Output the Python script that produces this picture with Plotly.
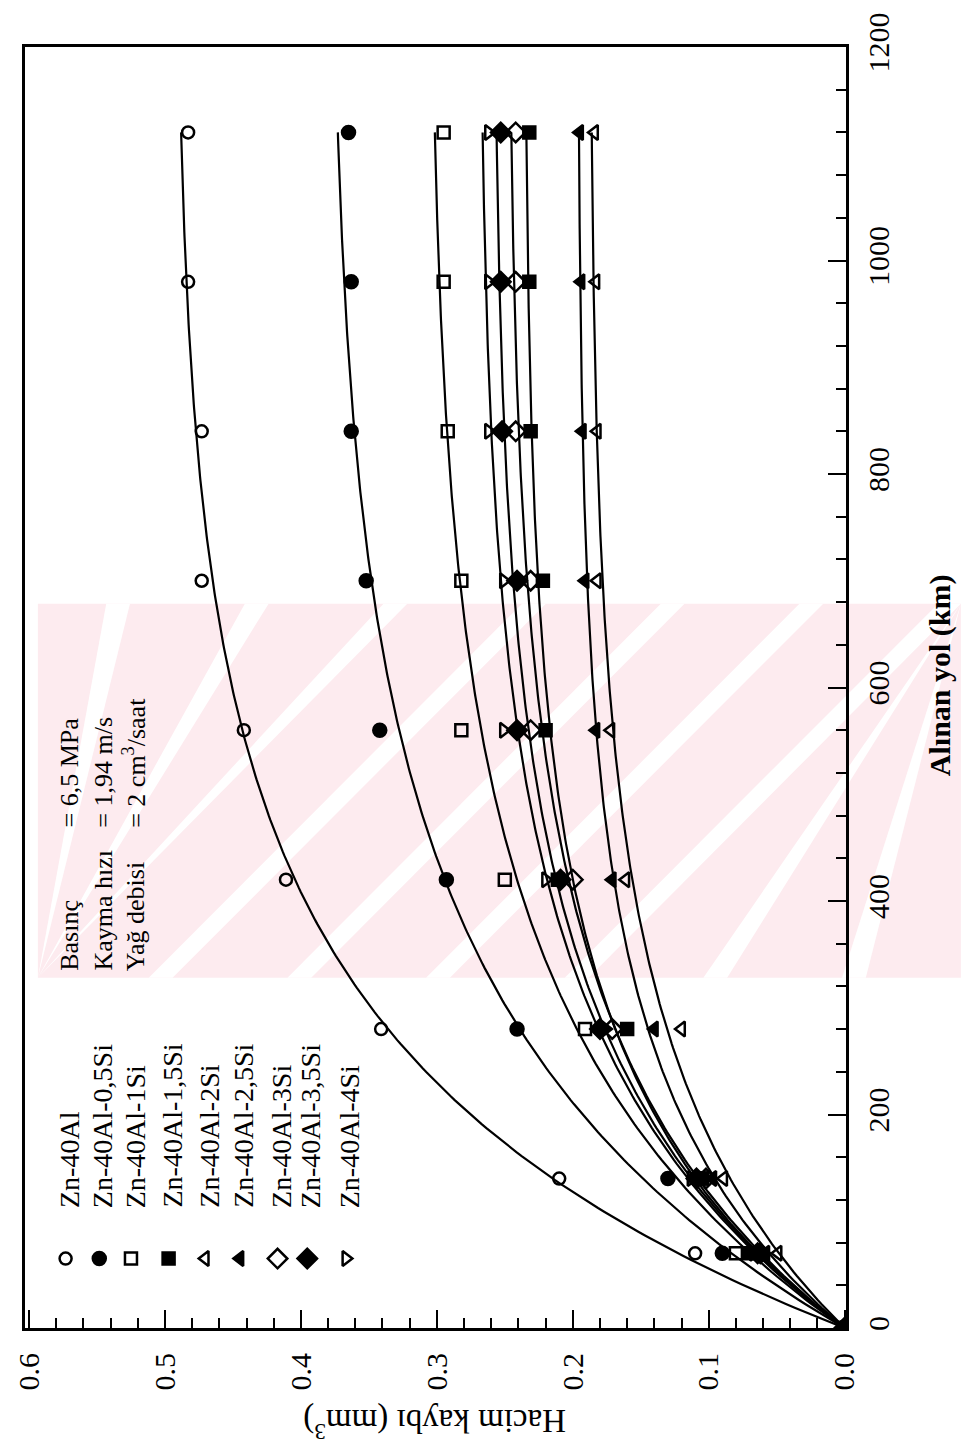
import numpy as np
import plotly.graph_objects as go

# Sliding distance (km) at which the volume loss was measured
distance_km = [0, 70, 140, 280, 420, 560, 700, 840, 980, 1120]

alloys = ["Zn-40Al", "Zn-40Al-0,5Si", "Zn-40Al-1Si", "Zn-40Al-1,5Si", "Zn-40Al-2Si",
          "Zn-40Al-2,5Si", "Zn-40Al-3Si", "Zn-40Al-3,5Si", "Zn-40Al-4Si"]

# Volume loss (mm^3) for each alloy
loss_zn40al = [0, 0.110, 0.210, 0.341, 0.411, 0.442, 0.473, 0.473, 0.483, 0.483]
loss_05si = [0, 0.090, 0.130, 0.241, 0.293, 0.342, 0.352, 0.363, 0.363, 0.365]
loss_1si = [0, 0.080, 0.105, 0.191, 0.250, 0.282, 0.282, 0.292, 0.295, 0.295]
loss_15si = [0, 0.070, 0.105, 0.160, 0.211, 0.220, 0.222, 0.231, 0.232, 0.232]
loss_2si = [0, 0.049, 0.089, 0.120, 0.161, 0.172, 0.182, 0.182, 0.183, 0.184]
loss_25si = [0, 0.058, 0.097, 0.140, 0.171, 0.183, 0.191, 0.193, 0.194, 0.195]
loss_3si = [0, 0.064, 0.102, 0.171, 0.200, 0.231, 0.231, 0.242, 0.242, 0.242]
loss_35si = [0, 0.062, 0.109, 0.180, 0.209, 0.241, 0.241, 0.252, 0.253, 0.253]
loss_4si = [0, 0.067, 0.113, 0.176, 0.220, 0.251, 0.251, 0.262, 0.262, 0.262]

losses = [loss_zn40al, loss_05si, loss_1si, loss_15si, loss_2si,
          loss_25si, loss_3si, loss_35si, loss_4si]

symbols = ["circle-open", "circle", "square-open", "square", "triangle-left-open",
           "triangle-left", "diamond-open", "diamond", "triangle-right-open"]
sizes = [12, 13, 12, 12, 13, 13, 15, 15, 13]

x_ticks = [0.0, 0.1, 0.2, 0.3, 0.4, 0.5, 0.6]
y_ticks = [0, 200, 400, 600, 800, 1000, 1200]

FONT = "Liberation Serif, Times New Roman, serif"
W, H = 962, 1451
PL, PR, PT, PB = 17, 846, 37, 1328


def px(x):
    return (x - PL) / (PR - PL)


def py(y):
    return (PB - y) / (PB - PT)


def saturation_fit(s, v):
    """Least-squares fit of v = a * (1 - exp(-s / tau))."""
    s = np.asarray(s, float)
    v = np.asarray(v, float)
    best = None
    for tau in np.linspace(40, 1000, 2000):
        f = 1 - np.exp(-s / tau)
        a = (f @ v) / (f @ f)
        err = np.sum((a * f - v) ** 2)
        if best is None or err < best[0]:
            best = (err, a, tau)
    return best[1], best[2]


fig = go.Figure()

s_fine = np.linspace(0, max(distance_km), 300)
for name, v in zip(alloys, losses):
    a, tau = saturation_fit(distance_km, v)
    fig.add_trace(go.Scatter(
        x=a * (1 - np.exp(-s_fine / tau)), y=s_fine, mode="lines",
        line=dict(color="black", width=2.2), hoverinfo="skip", showlegend=False))

for name, v, sym, sz in zip(alloys, losses, symbols, sizes):
    fig.add_trace(go.Scatter(
        x=v, y=distance_km, mode="markers", name=name,
        marker=dict(symbol=sym, size=sz, color="black",
                    line=dict(color="black", width=2.5)),
        showlegend=False))

# Legend keys on an overlay axis laid out in pixels
legend_x = [58, 92, 124, 162, 199, 234, 272, 302, 341]
legend_y = 1258
for name, sym, sz, lx in zip(alloys, symbols, sizes, legend_x):
    fig.add_trace(go.Scatter(
        x=[lx], y=[legend_y], mode="markers", xaxis="x2", yaxis="y2",
        marker=dict(symbol=sym, size=sz, color="black",
                    line=dict(color="black", width=2.5)),
        hoverinfo="skip", showlegend=False))

annotations = []
for name, lx in zip(alloys, legend_x):
    annotations.append(dict(
        x=px(lx + 4), y=py(1209), xref="paper", yref="paper", text=name,
        textangle=-90, xanchor="center", yanchor="bottom", showarrow=False,
        font=dict(family=FONT, size=28, color="black")))

cond_labels = ["Basınç", "Kayma hızı", "Yağ debisi"]
cond_values = ["= 6,5 MPa", "= 1,94 m/s", "= 2 cm<sup>3</sup>/saat"]
cond_x = [62, 96, 128]
for lab, val, cx in zip(cond_labels, cond_values, cond_x):
    annotations.append(dict(
        x=px(cx), y=py(970), xref="paper", yref="paper", text=lab,
        textangle=-90, xanchor="center", yanchor="bottom", showarrow=False,
        font=dict(family=FONT, size=26, color="black")))
    annotations.append(dict(
        x=px(cx), y=py(826), xref="paper", yref="paper", text=val,
        textangle=-90, xanchor="center", yanchor="bottom", showarrow=False,
        font=dict(family=FONT, size=26, color="black")))

annotations.append(dict(
    x=px(941), y=py(670), xref="paper", yref="paper", text="<b>Alınan yol (km)</b>",
    textangle=-90, xanchor="center", yanchor="middle", showarrow=False,
    font=dict(family=FONT, size=30, color="black")))
annotations.append(dict(
    x=px(431), y=py(1424), xref="paper", yref="paper", text="Hacim kaybı (mm<sup>3</sup>)",
    textangle=180, xanchor="center", yanchor="middle", showarrow=False,
    font=dict(family=FONT, size=33, color="black")))

# Faint pink background emblem with white diagonal gaps
shapes = []
pink = "#fdebef"
shapes.append(dict(type="rect", xref="paper", yref="paper", layer="below",
                   x0=px(30), x1=px(962), y0=py(975), y1=py(598),
                   fillcolor=pink, line=dict(width=0)))
for c in [697, 837, 977, 1117, 1257, 1397, 1537, 1677, 1817]:
    w = 24
    pts = [(c - 598, 598), (c - 598 + w, 598), (c - 975 + w, 975), (c - 975, 975)]
    pts = [(min(max(x, 30), 962), y) for x, y in pts]
    path = "M " + " L ".join(f"{px(x)},{py(y)}" for x, y in pts) + " Z"
    shapes.append(dict(type="path", xref="paper", yref="paper", layer="below",
                       path=path, fillcolor="white", line=dict(width=0)))

fig.update_layout(
    width=W, height=H, autosize=False,
    margin=dict(l=PL, r=W - PR, t=PT, b=H - PB, pad=0),
    paper_bgcolor="white", plot_bgcolor="rgba(0,0,0,0)",
    showlegend=False,
    annotations=annotations,
    shapes=shapes,
    xaxis=dict(
        range=[0.603, -0.001], tickvals=x_ticks,
        ticktext=[f"{t:.1f}" for t in x_ticks], tickangle=-90,
        ticks="inside", ticklen=18, tickwidth=2, tickcolor="black",
        minor=dict(dtick=0.02, ticks="inside", ticklen=10, tickwidth=2, tickcolor="black"),
        showline=True, linewidth=3, linecolor="black", mirror=True,
        showgrid=False, zeroline=False, ticklabelstandoff=10,
        tickfont=dict(family=FONT, size=30, color="black")),
    yaxis=dict(
        range=[0, 1200], tickvals=y_ticks, side="right", tickangle=-90,
        ticks="inside", ticklen=18, tickwidth=2, tickcolor="black",
        minor=dict(dtick=40, ticks="inside", ticklen=10, tickwidth=2, tickcolor="black"),
        showline=True, linewidth=3, linecolor="black", mirror=True,
        showgrid=False, zeroline=False, ticklabelstandoff=4,
        tickfont=dict(family=FONT, size=30, color="black")),
    xaxis2=dict(overlaying="x", range=[PL, PR], visible=False),
    yaxis2=dict(overlaying="y", range=[PB, PT], visible=False),
)

fig.write_html("out.html")
